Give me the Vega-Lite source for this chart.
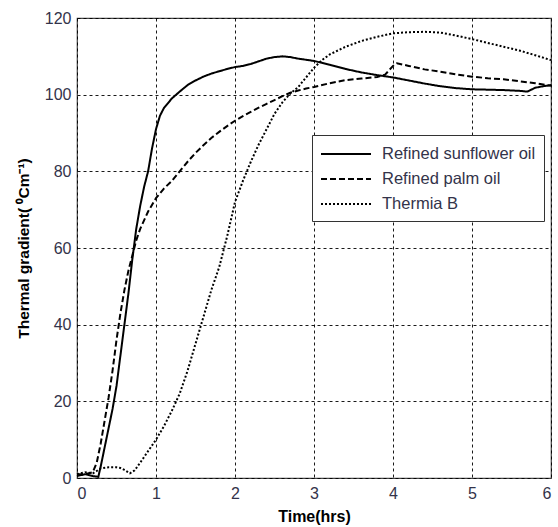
{
  "$schema": "https://vega.github.io/schema/vega-lite/v6.json",
  "width": 474,
  "height": 460,
  "autosize": "none",
  "padding": {"left": 77, "top": 18, "right": 7, "bottom": 49},
  "background": "white",
  "config": {
    "view": {"stroke": "#444", "strokeWidth": 1.2},
    "font": "Liberation Sans"
  },
  "data": {
    "values": [
      {"t": 0, "v": 0.5, "s": "Refined sunflower oil"},
      {"t": 0.1, "v": 1, "s": "Refined sunflower oil"},
      {"t": 0.2, "v": 0.5, "s": "Refined sunflower oil"},
      {"t": 0.27, "v": 0.3, "s": "Refined sunflower oil"},
      {"t": 0.3, "v": 3, "s": "Refined sunflower oil"},
      {"t": 0.35, "v": 8, "s": "Refined sunflower oil"},
      {"t": 0.4, "v": 13, "s": "Refined sunflower oil"},
      {"t": 0.45, "v": 18, "s": "Refined sunflower oil"},
      {"t": 0.5, "v": 24, "s": "Refined sunflower oil"},
      {"t": 0.55, "v": 32, "s": "Refined sunflower oil"},
      {"t": 0.6, "v": 40, "s": "Refined sunflower oil"},
      {"t": 0.65, "v": 48, "s": "Refined sunflower oil"},
      {"t": 0.7, "v": 57, "s": "Refined sunflower oil"},
      {"t": 0.75, "v": 65, "s": "Refined sunflower oil"},
      {"t": 0.8, "v": 71, "s": "Refined sunflower oil"},
      {"t": 0.85, "v": 76, "s": "Refined sunflower oil"},
      {"t": 0.9, "v": 80, "s": "Refined sunflower oil"},
      {"t": 0.95, "v": 86, "s": "Refined sunflower oil"},
      {"t": 1.0, "v": 91, "s": "Refined sunflower oil"},
      {"t": 1.05, "v": 94.5, "s": "Refined sunflower oil"},
      {"t": 1.1, "v": 96.5, "s": "Refined sunflower oil"},
      {"t": 1.2, "v": 99, "s": "Refined sunflower oil"},
      {"t": 1.3, "v": 100.8, "s": "Refined sunflower oil"},
      {"t": 1.4, "v": 102.5, "s": "Refined sunflower oil"},
      {"t": 1.5, "v": 103.7, "s": "Refined sunflower oil"},
      {"t": 1.6, "v": 104.7, "s": "Refined sunflower oil"},
      {"t": 1.7, "v": 105.5, "s": "Refined sunflower oil"},
      {"t": 1.8, "v": 106.1, "s": "Refined sunflower oil"},
      {"t": 1.9, "v": 106.7, "s": "Refined sunflower oil"},
      {"t": 2.0, "v": 107.2, "s": "Refined sunflower oil"},
      {"t": 2.1, "v": 107.5, "s": "Refined sunflower oil"},
      {"t": 2.2, "v": 108, "s": "Refined sunflower oil"},
      {"t": 2.3, "v": 108.7, "s": "Refined sunflower oil"},
      {"t": 2.4, "v": 109.4, "s": "Refined sunflower oil"},
      {"t": 2.5, "v": 109.8, "s": "Refined sunflower oil"},
      {"t": 2.6, "v": 110, "s": "Refined sunflower oil"},
      {"t": 2.7, "v": 109.8, "s": "Refined sunflower oil"},
      {"t": 2.8, "v": 109.4, "s": "Refined sunflower oil"},
      {"t": 2.9, "v": 109.1, "s": "Refined sunflower oil"},
      {"t": 3.0, "v": 108.8, "s": "Refined sunflower oil"},
      {"t": 3.2, "v": 107.8, "s": "Refined sunflower oil"},
      {"t": 3.4, "v": 106.7, "s": "Refined sunflower oil"},
      {"t": 3.6, "v": 105.8, "s": "Refined sunflower oil"},
      {"t": 3.8, "v": 105.1, "s": "Refined sunflower oil"},
      {"t": 4.0, "v": 104.5, "s": "Refined sunflower oil"},
      {"t": 4.2, "v": 103.7, "s": "Refined sunflower oil"},
      {"t": 4.4, "v": 102.9, "s": "Refined sunflower oil"},
      {"t": 4.6, "v": 102.2, "s": "Refined sunflower oil"},
      {"t": 4.8, "v": 101.7, "s": "Refined sunflower oil"},
      {"t": 5.0, "v": 101.4, "s": "Refined sunflower oil"},
      {"t": 5.2, "v": 101.3, "s": "Refined sunflower oil"},
      {"t": 5.4, "v": 101.2, "s": "Refined sunflower oil"},
      {"t": 5.6, "v": 101, "s": "Refined sunflower oil"},
      {"t": 5.7, "v": 100.8, "s": "Refined sunflower oil"},
      {"t": 5.8, "v": 101.8, "s": "Refined sunflower oil"},
      {"t": 5.9, "v": 102.2, "s": "Refined sunflower oil"},
      {"t": 6.0, "v": 102.5, "s": "Refined sunflower oil"},

      {"t": 0, "v": 1, "s": "Refined palm oil"},
      {"t": 0.1, "v": 1, "s": "Refined palm oil"},
      {"t": 0.2, "v": 1.5, "s": "Refined palm oil"},
      {"t": 0.25, "v": 4, "s": "Refined palm oil"},
      {"t": 0.3, "v": 9, "s": "Refined palm oil"},
      {"t": 0.35, "v": 15, "s": "Refined palm oil"},
      {"t": 0.4, "v": 21, "s": "Refined palm oil"},
      {"t": 0.45, "v": 28, "s": "Refined palm oil"},
      {"t": 0.5, "v": 36, "s": "Refined palm oil"},
      {"t": 0.55, "v": 43, "s": "Refined palm oil"},
      {"t": 0.6, "v": 49, "s": "Refined palm oil"},
      {"t": 0.65, "v": 54, "s": "Refined palm oil"},
      {"t": 0.7, "v": 58, "s": "Refined palm oil"},
      {"t": 0.75, "v": 62, "s": "Refined palm oil"},
      {"t": 0.8, "v": 65, "s": "Refined palm oil"},
      {"t": 0.9, "v": 69.5, "s": "Refined palm oil"},
      {"t": 1.0, "v": 73, "s": "Refined palm oil"},
      {"t": 1.1, "v": 75.5, "s": "Refined palm oil"},
      {"t": 1.2, "v": 77.5, "s": "Refined palm oil"},
      {"t": 1.3, "v": 80, "s": "Refined palm oil"},
      {"t": 1.4, "v": 82.5, "s": "Refined palm oil"},
      {"t": 1.5, "v": 84.8, "s": "Refined palm oil"},
      {"t": 1.6, "v": 86.8, "s": "Refined palm oil"},
      {"t": 1.7, "v": 88.7, "s": "Refined palm oil"},
      {"t": 1.8, "v": 90.3, "s": "Refined palm oil"},
      {"t": 1.9, "v": 91.8, "s": "Refined palm oil"},
      {"t": 2.0, "v": 93.2, "s": "Refined palm oil"},
      {"t": 2.1, "v": 94.4, "s": "Refined palm oil"},
      {"t": 2.2, "v": 95.5, "s": "Refined palm oil"},
      {"t": 2.3, "v": 96.6, "s": "Refined palm oil"},
      {"t": 2.4, "v": 97.6, "s": "Refined palm oil"},
      {"t": 2.5, "v": 98.6, "s": "Refined palm oil"},
      {"t": 2.6, "v": 99.6, "s": "Refined palm oil"},
      {"t": 2.7, "v": 100.5, "s": "Refined palm oil"},
      {"t": 2.8, "v": 101.1, "s": "Refined palm oil"},
      {"t": 2.9, "v": 101.6, "s": "Refined palm oil"},
      {"t": 3.0, "v": 102, "s": "Refined palm oil"},
      {"t": 3.2, "v": 103, "s": "Refined palm oil"},
      {"t": 3.4, "v": 103.8, "s": "Refined palm oil"},
      {"t": 3.6, "v": 104.2, "s": "Refined palm oil"},
      {"t": 3.8, "v": 104.6, "s": "Refined palm oil"},
      {"t": 3.9, "v": 105.2, "s": "Refined palm oil"},
      {"t": 4.0, "v": 107.5, "s": "Refined palm oil"},
      {"t": 4.05, "v": 108.2, "s": "Refined palm oil"},
      {"t": 4.2, "v": 107.5, "s": "Refined palm oil"},
      {"t": 4.4, "v": 106.6, "s": "Refined palm oil"},
      {"t": 4.6, "v": 106, "s": "Refined palm oil"},
      {"t": 4.8, "v": 105.3, "s": "Refined palm oil"},
      {"t": 5.0, "v": 104.7, "s": "Refined palm oil"},
      {"t": 5.2, "v": 104.3, "s": "Refined palm oil"},
      {"t": 5.4, "v": 104, "s": "Refined palm oil"},
      {"t": 5.6, "v": 103.5, "s": "Refined palm oil"},
      {"t": 5.8, "v": 103, "s": "Refined palm oil"},
      {"t": 6.0, "v": 102.3, "s": "Refined palm oil"},

      {"t": 0, "v": 1, "s": "Thermia B"},
      {"t": 0.1, "v": 1.5, "s": "Thermia B"},
      {"t": 0.2, "v": 1.2, "s": "Thermia B"},
      {"t": 0.3, "v": 2.5, "s": "Thermia B"},
      {"t": 0.4, "v": 2.8, "s": "Thermia B"},
      {"t": 0.5, "v": 2.8, "s": "Thermia B"},
      {"t": 0.55, "v": 2.6, "s": "Thermia B"},
      {"t": 0.6, "v": 2.1, "s": "Thermia B"},
      {"t": 0.67, "v": 1.2, "s": "Thermia B"},
      {"t": 0.73, "v": 2, "s": "Thermia B"},
      {"t": 0.8, "v": 4, "s": "Thermia B"},
      {"t": 0.9, "v": 7, "s": "Thermia B"},
      {"t": 1.0, "v": 10, "s": "Thermia B"},
      {"t": 1.1, "v": 13.5, "s": "Thermia B"},
      {"t": 1.2, "v": 17.5, "s": "Thermia B"},
      {"t": 1.3, "v": 22, "s": "Thermia B"},
      {"t": 1.4, "v": 28, "s": "Thermia B"},
      {"t": 1.5, "v": 35, "s": "Thermia B"},
      {"t": 1.6, "v": 42, "s": "Thermia B"},
      {"t": 1.7, "v": 49, "s": "Thermia B"},
      {"t": 1.8, "v": 55, "s": "Thermia B"},
      {"t": 1.9, "v": 63, "s": "Thermia B"},
      {"t": 2.0, "v": 72, "s": "Thermia B"},
      {"t": 2.1, "v": 77.5, "s": "Thermia B"},
      {"t": 2.2, "v": 82.5, "s": "Thermia B"},
      {"t": 2.3, "v": 87, "s": "Thermia B"},
      {"t": 2.4, "v": 91, "s": "Thermia B"},
      {"t": 2.5, "v": 95, "s": "Thermia B"},
      {"t": 2.6, "v": 98, "s": "Thermia B"},
      {"t": 2.7, "v": 100.3, "s": "Thermia B"},
      {"t": 2.8, "v": 102, "s": "Thermia B"},
      {"t": 2.9, "v": 104.5, "s": "Thermia B"},
      {"t": 3.0, "v": 107, "s": "Thermia B"},
      {"t": 3.1, "v": 109, "s": "Thermia B"},
      {"t": 3.2, "v": 110.5, "s": "Thermia B"},
      {"t": 3.4, "v": 112.5, "s": "Thermia B"},
      {"t": 3.6, "v": 114, "s": "Thermia B"},
      {"t": 3.8, "v": 115.1, "s": "Thermia B"},
      {"t": 4.0, "v": 116, "s": "Thermia B"},
      {"t": 4.2, "v": 116.3, "s": "Thermia B"},
      {"t": 4.4, "v": 116.4, "s": "Thermia B"},
      {"t": 4.6, "v": 116.2, "s": "Thermia B"},
      {"t": 4.8, "v": 115.4, "s": "Thermia B"},
      {"t": 5.0, "v": 114.5, "s": "Thermia B"},
      {"t": 5.2, "v": 113.5, "s": "Thermia B"},
      {"t": 5.4, "v": 112.5, "s": "Thermia B"},
      {"t": 5.6, "v": 111.5, "s": "Thermia B"},
      {"t": 5.8, "v": 110.3, "s": "Thermia B"},
      {"t": 6.0, "v": 109, "s": "Thermia B"}
    ]
  },
  "mark": {"type": "line", "color": "black", "strokeWidth": 2},
  "encoding": {
    "x": {
      "field": "t",
      "type": "quantitative",
      "scale": {"domain": [0, 6], "nice": false},
      "axis": {
        "title": "Time(hrs)",
        "values": [0, 1, 2, 3, 4, 5, 6],
        "grid": true,
        "gridColor": "black",
        "gridDash": [3, 3],
        "gridWidth": 1,
        "gridOpacity": 0.9,
        "domain": false,
        "ticks": false,
        "labelPadding": 7,
        "labelFontSize": 16,
        "labelColor": "#33334a",
        "labelFont": "Liberation Sans",
        "titleFont": "Liberation Sans",
        "titleFontSize": 16,
        "titleFontWeight": "bold",
        "titleColor": "black",
        "titlePadding": 7
      }
    },
    "y": {
      "field": "v",
      "type": "quantitative",
      "scale": {"domain": [0, 120], "nice": false},
      "axis": {
        "title": "Thermal gradient( ⁰Cm⁻¹)",
        "values": [0, 20, 40, 60, 80, 100, 120],
        "grid": true,
        "gridColor": "black",
        "gridDash": [3, 3],
        "gridWidth": 1,
        "gridOpacity": 0.9,
        "domain": false,
        "ticks": false,
        "labelPadding": 6,
        "labelFontSize": 16,
        "labelColor": "#33334a",
        "labelFont": "Liberation Sans",
        "titleFont": "Liberation Sans",
        "titleFontSize": 15.5,
        "titleFontWeight": "bold",
        "titleColor": "black",
        "titlePadding": 13
      }
    },
    "strokeDash": {
      "field": "s",
      "type": "nominal",
      "scale": {
        "domain": ["Refined sunflower oil", "Refined palm oil", "Thermia B"],
        "range": [[1, 0], [6, 3], [2, 2]]
      },
      "legend": {
        "title": null,
        "orient": "none",
        "legendX": 235,
        "legendY": 117,
        "padding": 8,
        "strokeColor": "#333",
        "fillColor": "white",
        "symbolType": "M-1,0H4",
        "symbolSize": 400,
        "symbolStrokeWidth": 2,
        "symbolStrokeColor": "black",
        "labelOffset": 40,
        "labelFontSize": 16.5,
        "labelFont": "Liberation Sans",
        "labelColor": "#33334a",
        "rowPadding": 5
      }
    }
  }
}
